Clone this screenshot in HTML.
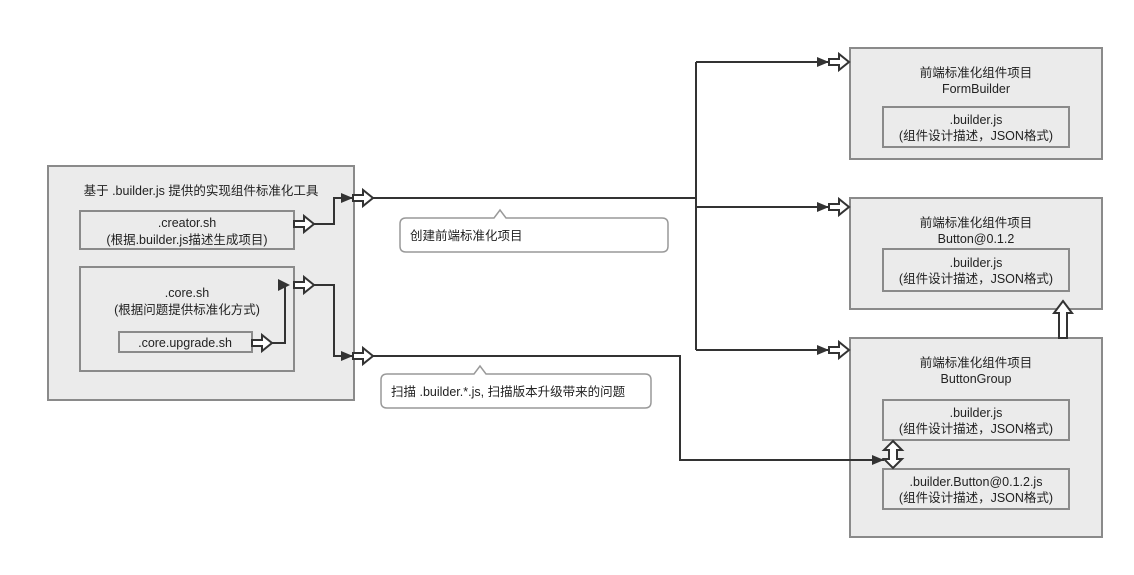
<!DOCTYPE html>
<html><head><meta charset="utf-8"><style>
body{margin:0;background:#fff}
svg text{font-family:"Liberation Sans","Noto Sans CJK SC",sans-serif;font-size:12.5px;fill:#222;text-anchor:middle}
</style></head><body>
<svg width="1134" height="570" viewBox="0 0 1134 570" xmlns="http://www.w3.org/2000/svg">
<defs>
<marker id="ah" markerWidth="12" markerHeight="10" refX="12" refY="5" orient="auto" markerUnits="userSpaceOnUse"><path d="M0,0 L12,5 L0,10 z" fill="#333"/></marker>
<path id="ho" d="M0,-3 L10,-3 L10,-8 L20,0 L10,8 L10,3 L0,3 z" fill="#fff" stroke="#333" stroke-width="2"/>
</defs>
<g fill="#ebebeb" stroke="#8a8a8a" stroke-width="2">
<rect x="48" y="166" width="306" height="234"/>
<rect x="80" y="211" width="214" height="38"/>
<rect x="80" y="267" width="214" height="104"/>
<rect x="119" y="332" width="133" height="20"/>
<rect x="850" y="48" width="252" height="111"/>
<rect x="883" y="107" width="186" height="40"/>
<rect x="850" y="198" width="252" height="111"/>
<rect x="883" y="249" width="186" height="42"/>
<rect x="850" y="338" width="252" height="199"/>
<rect x="883" y="400" width="186" height="40"/>
<rect x="883" y="469" width="186" height="40"/>
</g>
<g fill="none" stroke="#333" stroke-width="2">
<path d="M373,198 H696"/>
<path d="M696,62 V350"/>
<path d="M696,62 H829" marker-end="url(#ah)"/>
<path d="M696,207 H829" marker-end="url(#ah)"/>
<path d="M696,350 H829" marker-end="url(#ah)"/>
<path d="M314,224 H334 V198 H353" marker-end="url(#ah)"/>
<path d="M314,285 H334 V356 H353" marker-end="url(#ah)"/>
<path d="M373,356 H680 V460 H884" marker-end="url(#ah)"/>
<path d="M272,343 H285 V285 H278"/>
</g>
<path d="M278,279 L290,285 L278,291 z" fill="#333"/>
<use href="#ho" x="353" y="198"/>
<use href="#ho" x="294" y="224"/>
<use href="#ho" x="294" y="285"/>
<use href="#ho" x="353" y="356"/>
<use href="#ho" x="252" y="343"/>
<use href="#ho" x="829" y="62"/>
<use href="#ho" x="829" y="207"/>
<use href="#ho" x="829" y="350"/>
<path d="M1063,301 L1072,313 L1067,313 L1067,338 L1059,338 L1059,313 L1054,313 z" fill="#fff" stroke="#333" stroke-width="2"/>
<path d="M893,441 L902,450 L897,450 L897,459 L902,459 L893,468 L884,459 L889,459 L889,450 L884,450 z" fill="#fff" stroke="#333" stroke-width="2"/>
<g fill="#fff" stroke="#999" stroke-width="1.5">
<path d="M406,218 H494 L500,210 L506,218 H662 Q668,218 668,224 V246 Q668,252 662,252 H406 Q400,252 400,246 V224 Q400,218 406,218 z"/>
<path d="M387,374 H474 L480,366 L486,374 H645 Q651,374 651,380 V402 Q651,408 645,408 H387 Q381,408 381,402 V380 Q381,374 387,374 z"/>
</g>
<text x="201" y="195">基于 .builder.js 提供的实现组件标准化工具</text>
<text x="187" y="227">.creator.sh</text>
<text x="187" y="244">(根据.builder.js描述生成项目)</text>
<text x="187" y="297">.core.sh</text>
<text x="187" y="314">(根据问题提供标准化方式)</text>
<text x="185" y="347">.core.upgrade.sh</text>
<text x="410" y="240" style="text-anchor:start">创建前端标准化项目</text>
<text x="391" y="396" style="text-anchor:start">扫描 .builder.*.js, 扫描版本升级带来的问题</text>
<text x="976" y="77">前端标准化组件项目</text>
<text x="976" y="93">FormBuilder</text>
<text x="976" y="124">.builder.js</text>
<text x="976" y="140">(组件设计描述，JSON格式)</text>
<text x="976" y="227">前端标准化组件项目</text>
<text x="976" y="243">Button@0.1.2</text>
<text x="976" y="267">.builder.js</text>
<text x="976" y="283">(组件设计描述，JSON格式)</text>
<text x="976" y="367">前端标准化组件项目</text>
<text x="976" y="383">ButtonGroup</text>
<text x="976" y="417">.builder.js</text>
<text x="976" y="433">(组件设计描述，JSON格式)</text>
<text x="976" y="486">.builder.Button@0.1.2.js</text>
<text x="976" y="502">(组件设计描述，JSON格式)</text>
</svg>
</body></html>
